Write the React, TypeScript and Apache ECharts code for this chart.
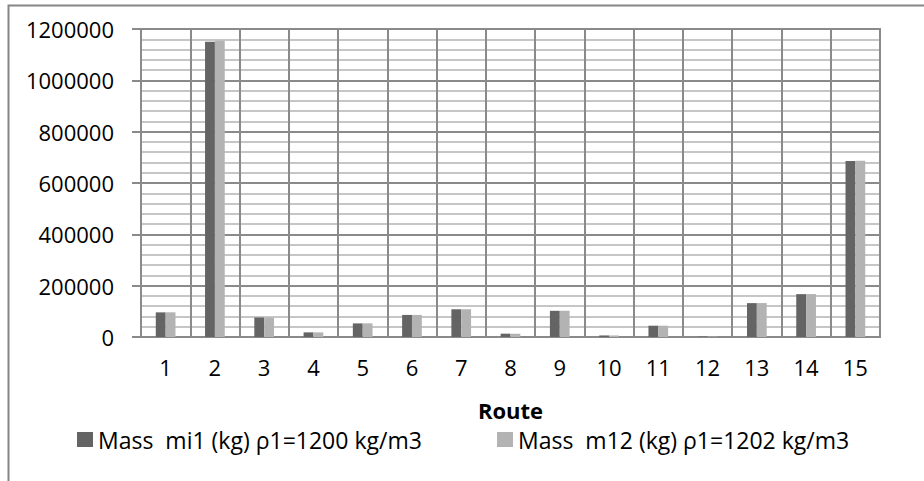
import React, { useEffect, useRef } from "react";
import * as echarts from "echarts";

const routes = ["1", "2", "3", "4", "5", "6", "7", "8", "9", "10", "11", "12", "13", "14", "15"];
const massMi1 = [96000, 1150000, 76000, 18000, 53000, 86000, 108000, 13000, 102000, 6000, 44000, 1500, 132000, 167000, 686000];
const massM12 = [96200, 1154000, 76100, 18000, 53100, 86100, 108200, 13000, 102200, 6000, 44100, 1500, 132200, 167300, 687000];
const seriesNames = ["Mass  mi1 (kg) ρ1=1200 kg/m3", "Mass  m12 (kg) ρ1=1202 kg/m3"];
const yMin = 0;
const yMax = 1200000;
const yInterval = 200000;

const FONT = "'Open Sans', 'Noto Sans', sans-serif";
const GRID_DARK = "#8a8a8a";
const GRID_LIGHT = "#c6c6c6";

export default function App() {
  const ref = useRef<HTMLDivElement>(null);
  useEffect(() => {
    if (!ref.current) return;
    const chart = echarts.init(ref.current, null, { renderer: "svg" });
    const legendText = { fontFamily: FONT, fontSize: 23, color: "#000" };
    chart.setOption({
      animation: false,
      backgroundColor: "#fff",
      textStyle: { fontFamily: FONT },
      graphic: [
        {
          type: "rect",
          shape: { x: 8.5, y: 5.5, width: 2000, height: 2000 },
          style: { fill: "none", stroke: "#868686", lineWidth: 2 },
          silent: true,
        },
      ],
      grid: {
        left: 141,
        right: 44,
        top: 29,
        bottom: 144,
        show: true,
        borderColor: GRID_DARK,
        borderWidth: 2,
      },
      legend: [
        {
          data: [seriesNames[0]],
          left: 77,
          top: 428,
          itemWidth: 16,
          itemHeight: 15,
          itemGap: 0,
          icon: "rect",
          textStyle: legendText,
          padding: 0,
        },
        {
          data: [seriesNames[1]],
          left: 497,
          top: 428,
          itemWidth: 16,
          itemHeight: 15,
          icon: "rect",
          textStyle: legendText,
          padding: 0,
        },
      ],
      xAxis: {
        type: "category",
        data: routes,
        boundaryGap: true,
        name: "Route",
        nameLocation: "middle",
        nameGap: 62,
        nameTextStyle: { fontFamily: FONT, fontSize: 22, fontWeight: "bold", color: "#000" },
        axisLine: { show: true, lineStyle: { color: GRID_DARK, width: 2 } },
        axisTick: { show: false },
        axisLabel: { fontFamily: FONT, fontSize: 22, color: "#000", margin: 19 },
        splitLine: { show: true, lineStyle: { color: GRID_DARK, width: 2 } },
      },
      yAxis: {
        type: "value",
        min: yMin,
        max: yMax,
        interval: yInterval,
        axisLine: { show: true, lineStyle: { color: GRID_DARK, width: 2 } },
        axisTick: { show: true, length: 9, lineStyle: { color: GRID_DARK, width: 2 } },
        axisLabel: {
          fontFamily: FONT,
          fontSize: 22,
          color: "#000",
          margin: 27,
          formatter: (v: number) => String(v),
        },
        splitLine: { show: true, lineStyle: { color: GRID_DARK, width: 2 } },
        minorTick: { show: false, splitNumber: 5 },
        minorSplitLine: { show: true, lineStyle: { color: GRID_LIGHT, width: 2 } },
      },
      series: [
        {
          name: seriesNames[0],
          type: "bar",
          data: massMi1,
          itemStyle: { color: "#646464" },
          barGap: "0%",
          barCategoryGap: "60%",
        },
        {
          name: seriesNames[1],
          type: "bar",
          data: massM12,
          itemStyle: { color: "#b3b3b3" },
          barGap: "0%",
          barCategoryGap: "60%",
        },
      ],
    });
    return () => chart.dispose();
  }, []);
  return (
    <div
      ref={ref}
      style={{ position: "absolute", left: 0, top: 0, width: 924, height: 481, background: "#fff" }}
    />
  );
}
